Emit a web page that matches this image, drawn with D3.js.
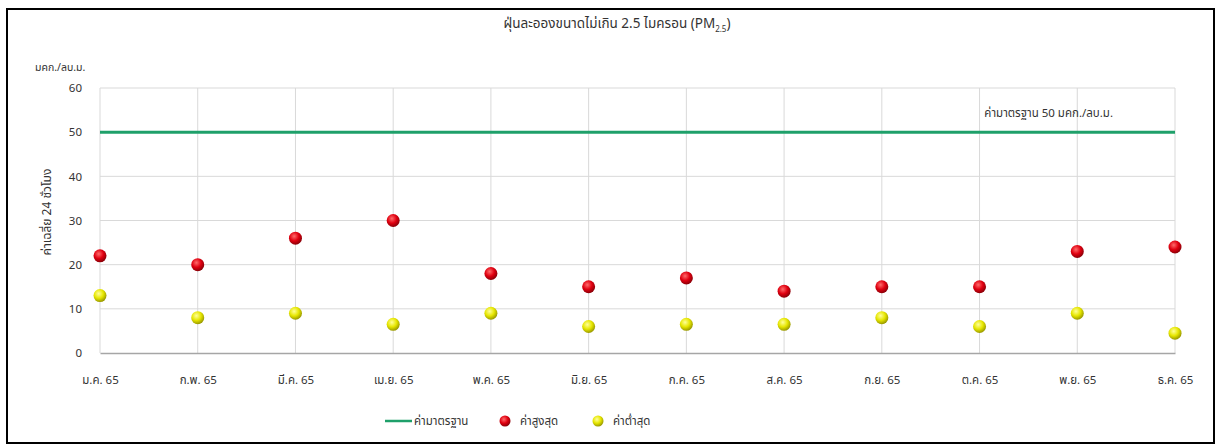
<!DOCTYPE html>
<html>
<head>
<meta charset="utf-8">
<script src="https://cdn.jsdelivr.net/npm/d3@7"></script>
<style>
  body { margin: 0; background: #fff; }
  svg text { font-family: "Noto Sans Thai", Tahoma, "DejaVu Sans", sans-serif; fill: #333; }
</style>
</head>
<body>
<div id="chart"></div>
<script>
"use strict";

const months = ['ม.ค. 65', 'ก.พ. 65', 'มี.ค. 65', 'เม.ย. 65', 'พ.ค. 65', 'มิ.ย. 65',
  'ก.ค. 65', 'ส.ค. 65', 'ก.ย. 65', 'ต.ค. 65', 'พ.ย. 65', 'ธ.ค. 65'];
const maxValues = [22, 20, 26, 30, 18, 15, 17, 14, 15, 15, 23, 24];
const minValues = [13, 8, 9, 6.5, 9, 6, 6.5, 6.5, 8, 6, 9, 4.5];
const standardValue = 50;
const yTicks = [0, 10, 20, 30, 40, 50, 60];

const width = 1217;
const height = 446;
const margin = { top: 88, right: 42, bottom: 93, left: 100 };
const innerW = width - margin.left - margin.right;
const innerH = height - margin.top - margin.bottom;

function translateStr(x, y) {
  return 'translate(' + x + ', ' + y + ')';
}

let svg = d3.select('#chart')
  .append('svg')
  .attr('width', width)
  .attr('height', height);

// ball gradients
let defs = svg.append('defs');
function ballGradient(id, light, mid, dark) {
  let g = defs.append('radialGradient')
    .attr('id', id)
    .attr('cx', '40%').attr('cy', '35%').attr('r', '65%');
  g.append('stop').attr('offset', '0%').attr('stop-color', light);
  g.append('stop').attr('offset', '55%').attr('stop-color', mid);
  g.append('stop').attr('offset', '100%').attr('stop-color', dark);
}
ballGradient('redBall', '#ff6b6b', '#e00010', '#8a0008');
ballGradient('yellowBall', '#ffff9a', '#e6e600', '#9a9a00');

// outer frame
svg.append('rect')
  .attr('x', 7).attr('y', 9)
  .attr('width', 1207).attr('height', 434)
  .attr('fill', '#fff')
  .attr('stroke', '#000')
  .attr('stroke-width', 2);

let g = svg.append('g')
  .attr('transform', translateStr(margin.left, margin.top));

let x = d3.scalePoint()
  .domain(months)
  .range([0, innerW]);

let y = d3.scaleLinear()
  .domain([0, 60])
  .range([innerH, 0]);

// horizontal grid
g.append('g')
  .selectAll('line')
  .data(yTicks.filter(d => d > 0))
  .join('line')
  .attr('x1', 0).attr('x2', innerW)
  .attr('y1', d => y(d)).attr('y2', d => y(d))
  .attr('stroke', '#d9d9d9');

// vertical grid
g.append('g')
  .selectAll('line')
  .data(months)
  .join('line')
  .attr('x1', d => x(d)).attr('x2', d => x(d))
  .attr('y1', 0).attr('y2', innerH)
  .attr('stroke', '#d9d9d9');

// x axis
let xAxis = g.append('g')
  .attr('transform', translateStr(0, innerH))
  .call(d3.axisBottom(x).tickSize(0).tickPadding(23));
xAxis.select('.domain').attr('stroke', '#a6a6a6').attr('stroke-width', 1.5);
xAxis.selectAll('text').attr('font-size', 11.5).attr('fill', '#333');

// y axis
let yAxis = g.append('g')
  .call(d3.axisLeft(y).tickValues(yTicks).tickSize(0).tickPadding(18));
yAxis.select('.domain').remove();
yAxis.selectAll('text').attr('font-size', 11.5).attr('fill', '#333');

// standard line
g.append('line')
  .attr('x1', 0).attr('x2', innerW)
  .attr('y1', y(standardValue)).attr('y2', y(standardValue))
  .attr('stroke', '#1fa06a')
  .attr('stroke-width', 3);

g.append('text')
  .attr('x', innerW - 62)
  .attr('y', y(standardValue) - 15)
  .attr('text-anchor', 'end')
  .attr('font-size', 11.5)
  .text('ค่ามาตรฐาน 50 มคก./ลบ.ม.');

// markers
g.append('g')
  .selectAll('circle')
  .data(months.map((m, i) => ({ m: m, v: minValues[i] })))
  .join('circle')
  .attr('cx', d => x(d.m))
  .attr('cy', d => y(d.v))
  .attr('r', 6.5)
  .attr('fill', 'url(#yellowBall)');

g.append('g')
  .selectAll('circle')
  .data(months.map((m, i) => ({ m: m, v: maxValues[i] })))
  .join('circle')
  .attr('cx', d => x(d.m))
  .attr('cy', d => y(d.v))
  .attr('r', 6.5)
  .attr('fill', 'url(#redBall)');

// title
let title = svg.append('text')
  .attr('x', 617)
  .attr('y', 28)
  .attr('text-anchor', 'middle')
  .attr('font-size', 13.5);
title.append('tspan').text('ฝุ่นละอองขนาดไม่เกิน 2.5 ไมครอน (PM');
title.append('tspan').attr('font-size', 8).attr('dy', 4).text('2.5');
title.append('tspan').attr('dy', -4).text(')');

// unit label
svg.append('text')
  .attr('x', 35)
  .attr('y', 71)
  .attr('font-size', 10.5)
  .text('มคก./ลบ.ม.');

// y axis title
svg.append('text')
  .attr('transform', translateStr(51, 212) + ' rotate(-90)')
  .attr('text-anchor', 'middle')
  .attr('font-size', 12)
  .text('ค่าเฉลี่ย 24 ชั่วโมง');

// legend
let legend = svg.append('g').attr('transform', translateStr(0, 421));
legend.append('line')
  .attr('x1', 385).attr('x2', 412)
  .attr('y1', 0).attr('y2', 0)
  .attr('stroke', '#1fa06a').attr('stroke-width', 2.5);
legend.append('text')
  .attr('x', 414).attr('y', 4)
  .attr('font-size', 11.5)
  .text('ค่ามาตรฐาน');
legend.append('circle')
  .attr('cx', 505).attr('cy', 0).attr('r', 5.5)
  .attr('fill', 'url(#redBall)');
legend.append('text')
  .attr('x', 520).attr('y', 4)
  .attr('font-size', 11.5)
  .text('ค่าสูงสุด');
legend.append('circle')
  .attr('cx', 598).attr('cy', 0).attr('r', 5.5)
  .attr('fill', 'url(#yellowBall)');
legend.append('text')
  .attr('x', 613).attr('y', 4)
  .attr('font-size', 11.5)
  .text('ค่าต่ำสุด');
</script>
</body>
</html>
